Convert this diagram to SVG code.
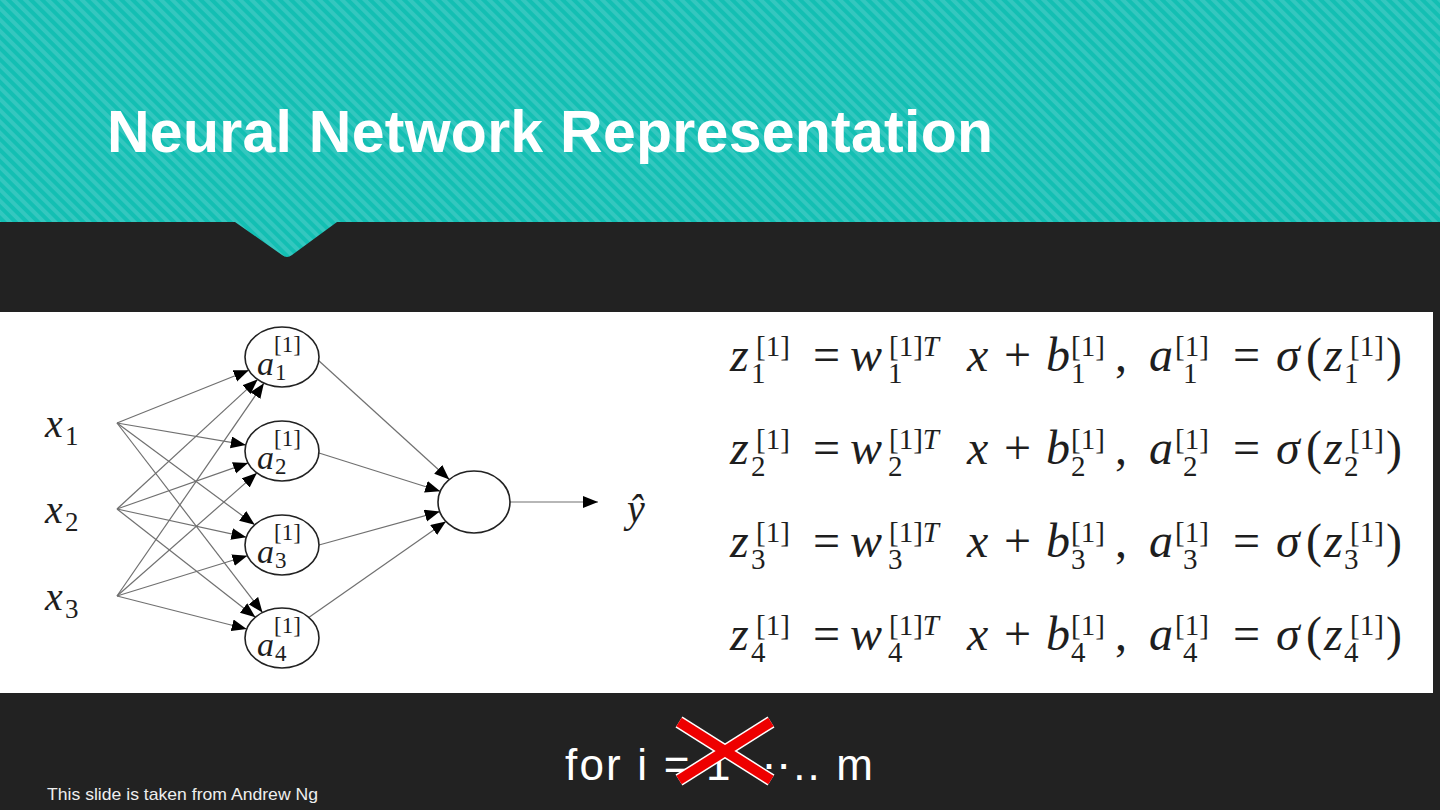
<svg xmlns="http://www.w3.org/2000/svg" width="1440" height="810" viewBox="0 0 1440 810">
<style>
.mi{font-family:"Liberation Serif",serif;font-style:italic;font-size:48px;fill:#1e1e1e}
.mr{font-family:"Liberation Serif",serif;font-size:48px;fill:#1e1e1e}
.sc{font-family:"Liberation Serif",serif;font-size:29px;fill:#1e1e1e}
.sci{font-style:italic}
.ni{font-family:"Liberation Serif",serif;font-style:italic;font-size:34px;fill:#1e1e1e}
.ns{font-family:"Liberation Serif",serif;font-size:23px;fill:#1e1e1e}
.xi{font-family:"Liberation Serif",serif;font-style:italic;font-size:40px;fill:#1e1e1e}
.xs{font-family:"Liberation Serif",serif;font-size:27px;fill:#1e1e1e}
.node{fill:#fff;stroke:#222;stroke-width:1.6}
.edge{stroke:#707070;stroke-width:1.2;fill:none;marker-end:url(#arr)}
</style>
<defs>
<pattern id="stripes" width="8" height="8" patternUnits="userSpaceOnUse" patternTransform="rotate(-45)">
<rect width="8" height="8" fill="#13bfb3"/>
<rect width="4" height="8" fill="#34c7bf"/>
</pattern>
<marker id="arr" markerUnits="userSpaceOnUse" markerWidth="16" markerHeight="13" refX="15" refY="6" orient="auto">
<path d="M0,0 L15,6 L0,12 z" fill="#000"/>
</marker>
</defs>
<rect width="1440" height="810" fill="#222222"/>
<path d="M0,0 H1440 V222 H337 L292,255 Q287,259 282,255 L235,222 H0 Z" fill="url(#stripes)"/>
<text x="107" y="152" font-family="Liberation Sans, Arial, sans-serif" font-size="59" font-weight="bold" fill="#ffffff" textLength="886" lengthAdjust="spacing">Neural Network Representation</text>
<rect x="0" y="312" width="1433" height="381" fill="#ffffff"/>

<g id="connectors">
<line class="edge" x1="117" y1="423" x2="248.8" y2="370.3"/>
<line class="edge" x1="117" y1="423" x2="245.8" y2="444.9"/>
<line class="edge" x1="117" y1="423" x2="254.7" y2="524.8"/>
<line class="edge" x1="117" y1="423" x2="262.5" y2="612.5"/>
<line class="edge" x1="117" y1="509" x2="257.6" y2="379.5"/>
<line class="edge" x1="117" y1="509" x2="248.1" y2="462.9"/>
<line class="edge" x1="117" y1="509" x2="246.3" y2="537.2"/>
<line class="edge" x1="117" y1="509" x2="255.4" y2="617.2"/>
<line class="edge" x1="117" y1="596" x2="263.9" y2="383.2"/>
<line class="edge" x1="117" y1="596" x2="256.9" y2="473.0"/>
<line class="edge" x1="117" y1="596" x2="247.4" y2="555.7"/>
<line class="edge" x1="117" y1="596" x2="246.7" y2="629.0"/>
<line class="edge" x1="318" y1="360" x2="449.3" y2="479.5"/>
<line class="edge" x1="319" y1="453" x2="440.2" y2="491.3"/>
<line class="edge" x1="319" y1="545" x2="439.8" y2="511.6"/>
<line class="edge" x1="308" y1="618" x2="445.9" y2="521.4"/>
<line class="edge" x1="510" y1="502" x2="598" y2="502"/>
</g>

<g id="x1"><text class="xi" x="45" y="437">x</text><text class="xs" x="65" y="445">1</text></g>
<g id="x2"><text class="xi" x="45" y="523">x</text><text class="xs" x="65" y="531">2</text></g>
<g id="x3"><text class="xi" x="45" y="610">x</text><text class="xs" x="65" y="618">3</text></g>

<g id="a1"><ellipse class="node" cx="282" cy="357" rx="37" ry="30"/><text class="ni" x="257" y="375">a</text><text class="ns" x="274" y="352">[1]</text><text class="ns" x="275" y="380">1</text></g>
<g id="a2"><ellipse class="node" cx="282" cy="451" rx="37" ry="30"/><text class="ni" x="257" y="469">a</text><text class="ns" x="274" y="446">[1]</text><text class="ns" x="275" y="474">2</text></g>
<g id="a3"><ellipse class="node" cx="282" cy="545" rx="37" ry="30"/><text class="ni" x="257" y="563">a</text><text class="ns" x="274" y="540">[1]</text><text class="ns" x="275" y="568">3</text></g>
<g id="a4"><ellipse class="node" cx="282" cy="638" rx="37" ry="30"/><text class="ni" x="257" y="656">a</text><text class="ns" x="274" y="633">[1]</text><text class="ns" x="275" y="661">4</text></g>

<g id="out"><ellipse class="node" cx="474" cy="502" rx="36" ry="31"/></g>
<g id="yhat"><text class="xi" x="627" y="522">ŷ</text></g>

<g id="equations">
<g transform="translate(0,371)">
<text class="mi" x="730" y="0">z</text><text class="sc" x="756" y="-15">[1]</text><text class="sc" x="751" y="12">1</text>
<text class="mr" x="813" y="0">=</text>
<text class="mi" x="850" y="0">w</text><text class="sc" x="889" y="-15">[1]<tspan class="sci">T</tspan></text><text class="sc" x="888" y="12">1</text>
<text class="mi" x="967" y="0">x</text><text class="mr" x="1004" y="0">+</text>
<text class="mi" x="1046" y="0">b</text><text class="sc" x="1071" y="-15">[1]</text><text class="sc" x="1071" y="12">1</text>
<text class="mr" x="1115" y="0">,</text>
<text class="mi" x="1149" y="0">a</text><text class="sc" x="1175" y="-15">[1]</text><text class="sc" x="1183" y="12">1</text>
<text class="mr" x="1233" y="0">=</text>
<text class="mi" x="1276" y="0">σ</text><text class="mr" x="1306" y="0">(</text>
<text class="mi" x="1324" y="0">z</text><text class="sc" x="1350" y="-15">[1]</text><text class="sc" x="1344" y="12">1</text>
<text class="mr" x="1386" y="0">)</text>
</g>
<g transform="translate(0,464)">
<text class="mi" x="730" y="0">z</text><text class="sc" x="756" y="-15">[1]</text><text class="sc" x="751" y="12">2</text>
<text class="mr" x="813" y="0">=</text>
<text class="mi" x="850" y="0">w</text><text class="sc" x="889" y="-15">[1]<tspan class="sci">T</tspan></text><text class="sc" x="888" y="12">2</text>
<text class="mi" x="967" y="0">x</text><text class="mr" x="1004" y="0">+</text>
<text class="mi" x="1046" y="0">b</text><text class="sc" x="1071" y="-15">[1]</text><text class="sc" x="1071" y="12">2</text>
<text class="mr" x="1115" y="0">,</text>
<text class="mi" x="1149" y="0">a</text><text class="sc" x="1175" y="-15">[1]</text><text class="sc" x="1183" y="12">2</text>
<text class="mr" x="1233" y="0">=</text>
<text class="mi" x="1276" y="0">σ</text><text class="mr" x="1306" y="0">(</text>
<text class="mi" x="1324" y="0">z</text><text class="sc" x="1350" y="-15">[1]</text><text class="sc" x="1344" y="12">2</text>
<text class="mr" x="1386" y="0">)</text>
</g>
<g transform="translate(0,557)">
<text class="mi" x="730" y="0">z</text><text class="sc" x="756" y="-15">[1]</text><text class="sc" x="751" y="12">3</text>
<text class="mr" x="813" y="0">=</text>
<text class="mi" x="850" y="0">w</text><text class="sc" x="889" y="-15">[1]<tspan class="sci">T</tspan></text><text class="sc" x="888" y="12">3</text>
<text class="mi" x="967" y="0">x</text><text class="mr" x="1004" y="0">+</text>
<text class="mi" x="1046" y="0">b</text><text class="sc" x="1071" y="-15">[1]</text><text class="sc" x="1071" y="12">3</text>
<text class="mr" x="1115" y="0">,</text>
<text class="mi" x="1149" y="0">a</text><text class="sc" x="1175" y="-15">[1]</text><text class="sc" x="1183" y="12">3</text>
<text class="mr" x="1233" y="0">=</text>
<text class="mi" x="1276" y="0">σ</text><text class="mr" x="1306" y="0">(</text>
<text class="mi" x="1324" y="0">z</text><text class="sc" x="1350" y="-15">[1]</text><text class="sc" x="1344" y="12">3</text>
<text class="mr" x="1386" y="0">)</text>
</g>
<g transform="translate(0,650)">
<text class="mi" x="730" y="0">z</text><text class="sc" x="756" y="-15">[1]</text><text class="sc" x="751" y="12">4</text>
<text class="mr" x="813" y="0">=</text>
<text class="mi" x="850" y="0">w</text><text class="sc" x="889" y="-15">[1]<tspan class="sci">T</tspan></text><text class="sc" x="888" y="12">4</text>
<text class="mi" x="967" y="0">x</text><text class="mr" x="1004" y="0">+</text>
<text class="mi" x="1046" y="0">b</text><text class="sc" x="1071" y="-15">[1]</text><text class="sc" x="1071" y="12">4</text>
<text class="mr" x="1115" y="0">,</text>
<text class="mi" x="1149" y="0">a</text><text class="sc" x="1175" y="-15">[1]</text><text class="sc" x="1183" y="12">4</text>
<text class="mr" x="1233" y="0">=</text>
<text class="mi" x="1276" y="0">σ</text><text class="mr" x="1306" y="0">(</text>
<text class="mi" x="1324" y="0">z</text><text class="sc" x="1350" y="-15">[1]</text><text class="sc" x="1344" y="12">4</text>
<text class="mr" x="1386" y="0">)</text>
</g>
</g>

<text x="565" y="780" font-family="Liberation Sans, Arial, sans-serif" font-size="44" fill="#ffffff" textLength="308" lengthAdjust="spacing">for i = 1 ⋯.. m</text>
<g id="cross">
<line x1="679" y1="722" x2="771" y2="780" stroke="#ffffff" stroke-width="13"/>
<line x1="771" y1="722" x2="679" y2="780" stroke="#ffffff" stroke-width="13"/>
<line x1="679" y1="722" x2="771" y2="780" stroke="#ee0000" stroke-width="10"/>
<line x1="771" y1="722" x2="679" y2="780" stroke="#ee0000" stroke-width="10"/>
</g>
<text x="47" y="800" font-family="Liberation Sans, Arial, sans-serif" font-size="17" fill="#eeeeee" textLength="271" lengthAdjust="spacingAndGlyphs">This slide is taken from Andrew Ng</text>
</svg>
